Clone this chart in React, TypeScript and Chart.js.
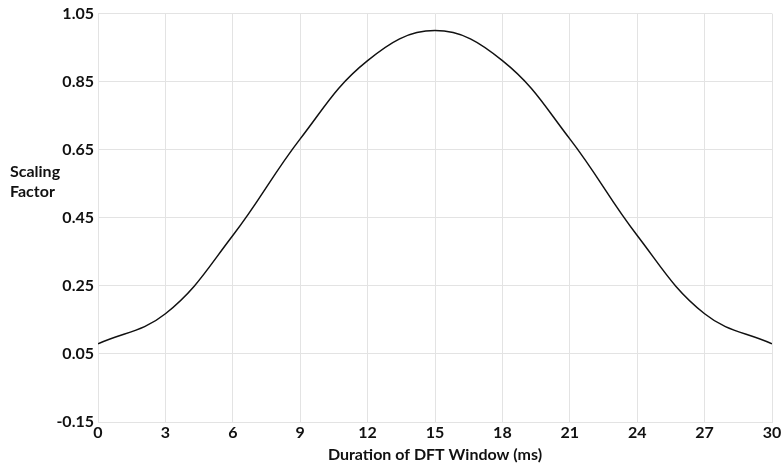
import React, { useEffect, useRef } from "react";
import { Chart, registerables } from "chart.js";

Chart.register(...registerables);

const durations = [0, 3, 6, 9, 12, 15, 18, 21, 24, 27, 30];
const scaling = [0.08, 0.168, 0.398, 0.682, 0.912, 1.0, 0.912, 0.682, 0.398, 0.168, 0.08];
const xTitle = "Duration of DFT Window (ms)";
const yTitleLines = ["Scaling", "Factor"];
const yMin = -0.15;
const yMax = 1.05;

const FONT = "Lato";
const TEXT = "#111111";

const yTitlePlugin = {
  id: "yTitlePlugin",
  afterDraw(chart: any) {
    const ctx = chart.ctx;
    ctx.save();
    ctx.fillStyle = TEXT;
    ctx.font = `bold 16px ${FONT}`;
    ctx.textAlign = "left";
    ctx.textBaseline = "middle";
    ctx.fillText(yTitleLines[0], 10, 172);
    ctx.fillText(yTitleLines[1], 10, 192);
    ctx.restore();
  },
};

export default function App() {
  const ref = useRef<HTMLCanvasElement>(null);
  useEffect(() => {
    document.body.style.margin = "0";
    const chart = new Chart(ref.current!, {
      type: "line",
      data: {
        datasets: [
          {
            data: durations.map((x, i) => ({ x, y: scaling[i] })),
            borderColor: "#111111",
            borderWidth: 1.5,
            pointRadius: 0,
            tension: 0.4,
            fill: false,
          },
        ],
      },
      options: {
        animation: false,
        responsive: false,
        maintainAspectRatio: false,
        layout: { padding: { top: 11, right: 12, left: 0, bottom: 0 } },
        plugins: { legend: { display: false }, tooltip: { enabled: false } },
        scales: {
          x: {
            type: "linear",
            min: 0,
            max: 30,
            ticks: {
              stepSize: 3,
              color: TEXT,
              font: { family: FONT, size: 16, weight: "bold" },
              padding: 1,
            },
            grid: { color: "#e3e3e3", drawTicks: false },
            border: { color: "#e3e3e3" },
            title: {
              display: true,
              text: xTitle,
              color: TEXT,
              font: { family: FONT, size: 16, weight: "bold" },
              padding: { top: 0, bottom: 0 },
            },
            afterFit(scale: any) {
              scale.height = 42;
            },
          },
          y: {
            type: "linear",
            min: yMin,
            max: yMax,
            ticks: {
              stepSize: 0.2,
              color: TEXT,
              font: { family: FONT, size: 16, weight: "bold" },
              padding: 4,
              callback: (v: any) => Number(v).toFixed(2),
            },
            grid: { color: "#e3e3e3", drawTicks: false },
            border: { color: "#e3e3e3" },
            afterFit(scale: any) {
              scale.width = 98;
            },
          },
        },
      },
      plugins: [yTitlePlugin],
    });
    return () => chart.destroy();
  }, []);
  return (
    <div style={{ position: "absolute", left: 0, top: 0, width: 784, height: 464 }}>
      <canvas ref={ref} width={784} height={464} />
    </div>
  );
}
